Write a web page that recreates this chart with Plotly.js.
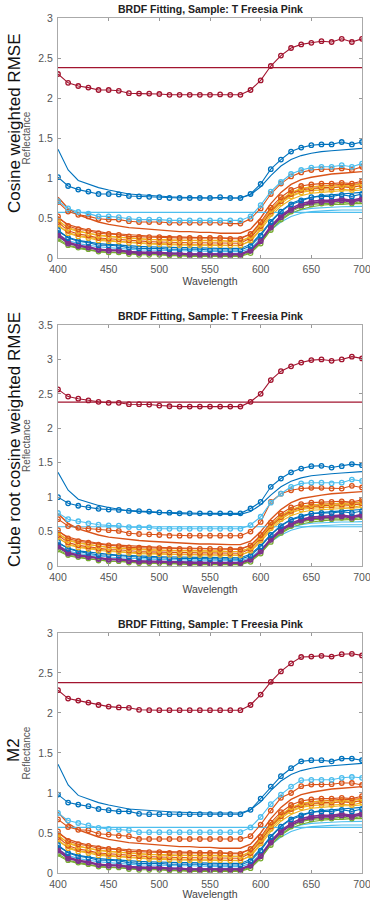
<!DOCTYPE html>
<html><head><meta charset="utf-8">
<script src="https://cdn.plot.ly/plotly-3.0.1.min.js"></script>
<style>html,body{margin:0;padding:0;background:#fff}#chart{width:370px;height:900px}</style>
</head><body><div id="chart"></div><script>
// ---------- DATA ----------
const wavelength = [400,410,420,430,440,450,460,470,480,490,500,510,520,530,540,550,560,570,580,590,600,610,620,630,640,650,660,670,680,690,700];

const panelTitle = 'BRDF Fitting, Sample: T Freesia Pink';
const panelLabels = ['Cosine weighted RMSE', 'Cube root cosine weighted RMSE', 'M2'];
const yRanges = [[0,3],[0,3.5],[0,3]];

// measured (marker) series that differ by panel
const p1_darkred = [2.30,2.19,2.15,2.13,2.10,2.10,2.09,2.06,2.055,2.055,2.05,2.04,2.04,2.04,2.04,2.04,2.045,2.04,2.04,2.10,2.22,2.40,2.53,2.625,2.67,2.69,2.71,2.70,2.74,2.70,2.74];
const p1_blue    = [1.01,0.90,0.855,0.83,0.80,0.80,0.795,0.775,0.77,0.765,0.76,0.75,0.75,0.75,0.75,0.75,0.76,0.75,0.75,0.80,0.925,1.11,1.23,1.33,1.38,1.41,1.42,1.42,1.45,1.42,1.45];
const p1_ltblue  = [0.71,0.62,0.575,0.555,0.52,0.52,0.51,0.49,0.48,0.48,0.48,0.47,0.47,0.47,0.47,0.47,0.47,0.47,0.47,0.52,0.66,0.83,0.95,1.05,1.10,1.13,1.14,1.14,1.16,1.14,1.18];
const p1_orange  = [0.70,0.58,0.54,0.52,0.49,0.48,0.48,0.46,0.45,0.45,0.45,0.44,0.44,0.44,0.44,0.44,0.44,0.43,0.43,0.49,0.62,0.80,0.93,1.02,1.07,1.10,1.11,1.11,1.12,1.10,1.14];

const p2_darkred = [2.565,2.46,2.43,2.405,2.385,2.37,2.37,2.35,2.35,2.345,2.33,2.32,2.315,2.315,2.315,2.315,2.315,2.315,2.315,2.385,2.50,2.70,2.83,2.90,2.955,2.99,3.00,2.98,3.00,3.04,3.015];
const p2_blue    = [1.00,0.91,0.875,0.85,0.83,0.82,0.815,0.80,0.797,0.79,0.78,0.775,0.765,0.765,0.765,0.765,0.765,0.765,0.765,0.835,0.93,1.15,1.27,1.36,1.415,1.45,1.455,1.43,1.45,1.48,1.465];
const p2_ltblue  = [0.77,0.68,0.65,0.62,0.60,0.59,0.585,0.565,0.56,0.56,0.54,0.54,0.54,0.54,0.54,0.54,0.54,0.54,0.54,0.595,0.715,0.92,1.05,1.15,1.20,1.21,1.21,1.20,1.21,1.255,1.235];
const p2_orange  = [0.68,0.58,0.555,0.54,0.53,0.52,0.51,0.475,0.465,0.46,0.45,0.44,0.44,0.44,0.44,0.44,0.44,0.44,0.44,0.50,0.64,0.93,1.05,1.10,1.125,1.135,1.135,1.125,1.125,1.165,1.14];

const p3_darkred = [2.285,2.18,2.155,2.13,2.10,2.08,2.07,2.065,2.04,2.035,2.035,2.035,2.035,2.035,2.035,2.035,2.035,2.035,2.035,2.10,2.23,2.39,2.52,2.62,2.70,2.705,2.715,2.705,2.735,2.74,2.72];
const p3_blue    = [0.98,0.88,0.855,0.835,0.80,0.785,0.77,0.77,0.74,0.735,0.735,0.735,0.735,0.735,0.735,0.735,0.735,0.735,0.735,0.79,0.93,1.08,1.21,1.31,1.395,1.41,1.41,1.395,1.43,1.43,1.41];
const p3_ltblue  = [0.75,0.655,0.625,0.595,0.565,0.55,0.54,0.535,0.51,0.51,0.51,0.51,0.51,0.51,0.51,0.51,0.51,0.51,0.51,0.57,0.70,0.86,0.98,1.08,1.16,1.165,1.165,1.165,1.19,1.20,1.19];
const p3_orange  = [0.67,0.575,0.54,0.535,0.49,0.48,0.465,0.46,0.425,0.425,0.425,0.425,0.425,0.425,0.425,0.425,0.425,0.425,0.425,0.46,0.605,0.78,0.94,1.00,1.085,1.105,1.105,1.11,1.125,1.125,1.10];

// lower measured (marker) series, read alike in all panels
const m_orange2 = [0.52,0.40,0.36,0.34,0.31,0.30,0.29,0.27,0.265,0.26,0.26,0.25,0.25,0.25,0.25,0.25,0.25,0.24,0.24,0.30,0.45,0.63,0.76,0.85,0.90,0.92,0.93,0.93,0.94,0.93,0.96];
const m_yellow1 = [0.48,0.37,0.33,0.31,0.28,0.27,0.26,0.245,0.235,0.23,0.23,0.22,0.22,0.22,0.22,0.22,0.22,0.21,0.21,0.27,0.42,0.60,0.73,0.82,0.87,0.89,0.90,0.90,0.91,0.90,0.93];
const m_orange3 = [0.45,0.34,0.30,0.28,0.25,0.24,0.235,0.22,0.21,0.205,0.20,0.195,0.19,0.19,0.19,0.19,0.19,0.185,0.185,0.25,0.40,0.58,0.71,0.80,0.85,0.87,0.88,0.88,0.89,0.88,0.91];
const m_yellow2 = [0.42,0.31,0.27,0.25,0.22,0.21,0.205,0.19,0.18,0.175,0.17,0.165,0.16,0.16,0.16,0.16,0.16,0.155,0.155,0.22,0.37,0.55,0.68,0.77,0.82,0.84,0.85,0.85,0.86,0.85,0.88];
const m_blue2   = [0.35,0.25,0.21,0.19,0.16,0.16,0.15,0.13,0.12,0.12,0.12,0.11,0.11,0.11,0.11,0.10,0.10,0.10,0.10,0.15,0.28,0.45,0.58,0.67,0.72,0.76,0.77,0.77,0.79,0.77,0.80];
const m_purple1 = [0.30,0.20,0.16,0.14,0.11,0.10,0.10,0.08,0.07,0.07,0.07,0.06,0.06,0.05,0.05,0.05,0.05,0.05,0.05,0.10,0.22,0.40,0.53,0.62,0.68,0.71,0.72,0.72,0.74,0.72,0.75];
const m_purple2 = [0.28,0.18,0.15,0.13,0.10,0.09,0.09,0.07,0.06,0.06,0.06,0.05,0.05,0.04,0.04,0.04,0.04,0.04,0.04,0.09,0.21,0.38,0.51,0.60,0.66,0.69,0.70,0.70,0.72,0.70,0.73];
const m_green   = [0.24,0.16,0.13,0.11,0.08,0.07,0.07,0.05,0.04,0.04,0.04,0.03,0.03,0.02,0.02,0.02,0.02,0.02,0.02,0.06,0.18,0.35,0.48,0.58,0.64,0.67,0.68,0.68,0.70,0.68,0.71];

// fitted (plain line) series, alike in all panels
const f_darkred = [2.38,2.38,2.38,2.38,2.38,2.38,2.38,2.38,2.38,2.38,2.38,2.38,2.38,2.38,2.38,2.38,2.38,2.38,2.38,2.38,2.38,2.38,2.38,2.38,2.38,2.38,2.38,2.38,2.38,2.38,2.38];
const f_blue    = [1.36,1.10,0.97,0.92,0.88,0.85,0.825,0.80,0.79,0.78,0.775,0.765,0.76,0.755,0.755,0.75,0.75,0.75,0.75,0.79,0.89,1.03,1.15,1.23,1.28,1.31,1.33,1.34,1.35,1.36,1.37];
const f_ltblue  = [0.57,0.57,0.57,0.57,0.57,0.57,0.57,0.57,0.57,0.57,0.57,0.57,0.57,0.57,0.57,0.57,0.57,0.57,0.57,0.57,0.57,0.57,0.57,0.57,0.57,0.57,0.57,0.57,0.57,0.57,0.57];
const f_orange  = [0.76,0.62,0.54,0.49,0.45,0.42,0.40,0.38,0.37,0.36,0.35,0.34,0.33,0.33,0.32,0.32,0.31,0.31,0.31,0.36,0.50,0.68,0.82,0.92,0.98,1.01,1.03,1.05,1.06,1.07,1.08];
const f_orange2 = [0.50,0.42,0.38,0.35,0.33,0.31,0.30,0.29,0.28,0.275,0.27,0.265,0.26,0.26,0.255,0.255,0.25,0.25,0.25,0.30,0.43,0.60,0.73,0.81,0.86,0.89,0.90,0.91,0.92,0.92,0.93];
const f_yellow1 = [0.46,0.38,0.34,0.31,0.29,0.27,0.26,0.25,0.24,0.235,0.23,0.225,0.22,0.22,0.215,0.215,0.21,0.21,0.21,0.26,0.40,0.57,0.70,0.78,0.83,0.86,0.87,0.88,0.89,0.89,0.90];
const f_yellow2 = [0.40,0.32,0.28,0.26,0.24,0.22,0.21,0.20,0.19,0.185,0.18,0.175,0.17,0.17,0.165,0.165,0.16,0.16,0.16,0.21,0.35,0.52,0.65,0.73,0.78,0.81,0.82,0.83,0.84,0.84,0.85];
const f_blue2   = [0.33,0.26,0.22,0.20,0.18,0.17,0.16,0.15,0.145,0.14,0.135,0.13,0.13,0.13,0.125,0.125,0.12,0.12,0.12,0.17,0.30,0.46,0.59,0.68,0.73,0.76,0.78,0.79,0.80,0.81,0.82];
const f_ltblue2 = [0.30,0.22,0.18,0.16,0.14,0.13,0.12,0.11,0.10,0.10,0.095,0.09,0.09,0.09,0.085,0.085,0.08,0.08,0.08,0.12,0.24,0.38,0.49,0.56,0.60,0.62,0.63,0.635,0.64,0.64,0.645];
const f_ltblue3 = [0.26,0.19,0.15,0.13,0.11,0.10,0.09,0.08,0.075,0.07,0.07,0.065,0.06,0.06,0.06,0.055,0.055,0.055,0.055,0.09,0.21,0.35,0.45,0.52,0.56,0.58,0.59,0.595,0.60,0.60,0.60];
const f_purple  = [0.27,0.19,0.15,0.13,0.11,0.10,0.09,0.08,0.07,0.065,0.06,0.06,0.055,0.05,0.05,0.05,0.05,0.05,0.05,0.09,0.21,0.38,0.51,0.60,0.65,0.68,0.70,0.71,0.72,0.72,0.73];
const f_green   = [0.22,0.15,0.12,0.10,0.08,0.07,0.065,0.055,0.05,0.045,0.04,0.035,0.035,0.03,0.03,0.03,0.03,0.03,0.03,0.07,0.19,0.35,0.47,0.56,0.61,0.64,0.66,0.67,0.67,0.68,0.68];

// ---------- STYLE ----------
const C = {blue:'#0072BD', orange:'#D95319', yellow:'#EDB120', purple:'#7E2F8E', green:'#77AC30', ltblue:'#4DBEEE', darkred:'#A2142F'};
const FONT = 'Liberation Sans, Arial, Helvetica, sans-serif';
const domains = [[0.71333,0.98],[0.37111,0.63889],[0.03,0.29667]];
const labelY = [0.8633, 0.5111, 0.1667];

const panelMeasured = [
  [p1_darkred,p1_blue,p1_ltblue,p1_orange],
  [p2_darkred,p2_blue,p2_ltblue,p2_orange],
  [p3_darkred,p3_blue,p3_ltblue,p3_orange]
];

const fitted = [
  [f_ltblue2,'ltblue',1.1],[f_ltblue3,'ltblue',1.1],[f_green,'green',1.1],[f_purple,'purple',1.1],
  [f_blue2,'blue',1.1],[f_yellow2,'yellow',1.1],[f_yellow1,'yellow',1.1],[f_orange2,'orange',1.1],
  [f_orange,'orange',1.4],[f_ltblue,'ltblue',1.1],[f_blue,'blue',1.1],[f_darkred,'darkred',1.1]
];
const lowerMeasured = [
  [m_green,'green',1.1],[m_purple2,'purple',1.6],[m_purple1,'purple',1.6],[m_blue2,'blue',1.1],
  [m_yellow2,'yellow',1.1],[m_orange3,'orange',1.1],[m_yellow1,'yellow',1.1],[m_orange2,'orange',1.1]
];

const traces = [];
panelMeasured.forEach((top, i) => {
  const xa = i === 0 ? 'x' : 'x' + (i+1);
  const ya = i === 0 ? 'y' : 'y' + (i+1);
  fitted.forEach(([y,c,w]) => traces.push({x:wavelength, y, xaxis:xa, yaxis:ya, type:'scatter', mode:'lines',
    line:{color:C[c], width:w}, hoverinfo:'skip'}));
  const markerSeries = lowerMeasured.concat([[top[3],'orange',1.1],[top[2],'ltblue',1.1],[top[1],'blue',1.1],[top[0],'darkred',1.1]]);
  markerSeries.forEach(([y,c,w]) => traces.push({x:wavelength, y, xaxis:xa, yaxis:ya, type:'scatter', mode:'lines+markers',
    line:{color:C[c], width:w}, marker:{symbol:'circle-open', size:4.5, color:C[c], line:{width:1.3, color:C[c]}}, hoverinfo:'skip'}));
});

const layout = {
  width:370, height:900, showlegend:false,
  margin:{l:58, r:8, t:0, b:0},
  paper_bgcolor:'#fff', plot_bgcolor:'#fff',
  font:{family:FONT, color:'#444'},
  annotations:[]
};
for (let i = 0; i < 3; i++) {
  const sfx = i === 0 ? '' : String(i+1);
  layout['xaxis'+sfx] = {domain:[0,1], anchor:'y'+sfx, range:[400,700], tick0:400, dtick:50,
    ticks:'inside', ticklen:3, tickcolor:'#999', showline:true, linecolor:'#aaa', linewidth:1, mirror:'ticks',
    showgrid:false, zeroline:false, ticklabeloverflow:'allow', ticklabelstandoff:1,
    tickfont:{size:10.5, color:'#555', family:FONT},
    title:{text:'Wavelength', font:{size:10.5, color:'#444', family:FONT}, standoff:2}};
  layout['yaxis'+sfx] = {domain:domains[i], anchor:'x'+sfx, range:yRanges[i], tick0:0, dtick:0.5,
    ticks:'inside', ticklen:3, tickcolor:'#999', showline:true, linecolor:'#aaa', linewidth:1, mirror:'ticks',
    showgrid:false, zeroline:false, ticklabelstandoff:2,
    tickfont:{size:10.5, color:'#555', family:FONT},
    title:{text:'Reflectance', font:{size:10, color:'#555', family:FONT}, standoff:5}};
  layout.annotations.push({xref:'paper', yref:'paper', x:0.5, y:domains[i][1], xanchor:'center', yanchor:'bottom', yshift:1,
    showarrow:false, text:'<b>'+panelTitle+'</b>', font:{size:10.5, color:'#222', family:FONT}});
  layout.annotations.push({xref:'paper', yref:'paper', x:-0.1447, y:labelY[i], xanchor:'center', yanchor:'middle',
    textangle:-90, showarrow:false, text:panelLabels[i], font:{size:17, color:'#111', family:FONT}});
}

Plotly.newPlot('chart', traces, layout, {displayModeBar:false, staticPlot:true});
</script></body></html>
